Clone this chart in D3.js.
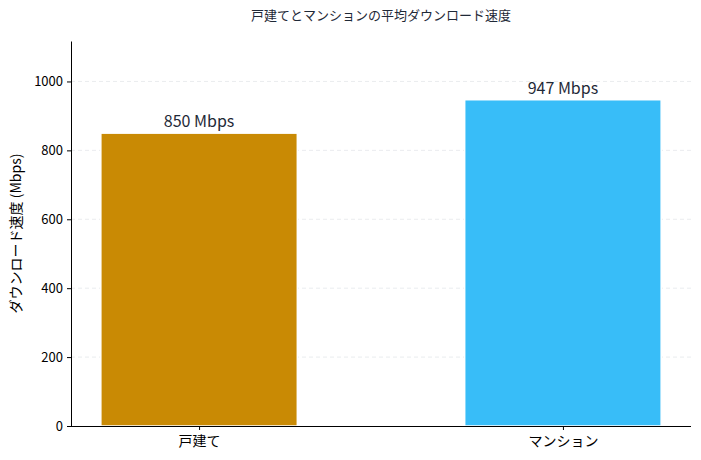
<!doctype html>
<html>
<head>
<meta charset="UTF-8">
<title>戸建てとマンションの平均ダウンロード速度</title>
<script src="https://d3js.org/d3.v7.min.js"></script>
<style>
  body { margin: 0; background: #fff; }
  text { font-family: "Noto Sans CJK JP", "Noto Sans", sans-serif; }
</style>
</head>
<body>
<div id="chart"></div>
<script>
// data
var categories = ["戸建て", "マンション"];
var speeds = [850, 947];
var colors = ["#C98A04", "#38BDF8"];
var yTicks = [0, 200, 400, 600, 800, 1000];

var W = 701, H = 460;
var margin = {top: 41, right: 10, bottom: 34, left: 71};
var width = W - margin.left - margin.right,
    height = H - margin.top - margin.bottom;

var svg = d3.select("#chart")
  .append("svg")
    .attr("width", W)
    .attr("height", H);

var g = svg.append("g")
    .attr("transform", "translate(" + margin.left + "," + margin.top + ")");

var x = d3.scalePoint()
  .domain(categories)
  .range([0, width])
  .padding(0.352);

var y = d3.scaleLinear()
  .domain([0, d3.max(speeds) * 1.18])
  .range([height, 0]);

var barW = x.step() * 0.54;

// grid
g.selectAll(".grid")
  .data(yTicks.filter(function(d) { return d > 0; }))
  .join("line")
    .attr("x1", 0)
    .attr("x2", width)
    .attr("y1", function(d) { return y(d); })
    .attr("y2", function(d) { return y(d); })
    .attr("stroke", "#e5e7eb")
    .attr("stroke-width", 0.8)
    .attr("stroke-dasharray", "4,3");

// bars
g.selectAll(".bar")
  .data(speeds)
  .join("rect")
    .attr("x", function(d, i) { return x(categories[i]) - barW / 2; })
    .attr("y", function(d) { return y(d); })
    .attr("width", barW)
    .attr("height", function(d) { return height - y(d); })
    .attr("fill", function(d, i) { return colors[i]; })
    .attr("stroke", "#fff")
    .attr("stroke-width", 1.5);

// value labels
g.selectAll(".val")
  .data(speeds)
  .join("text")
    .attr("x", function(d, i) { return x(categories[i]); })
    .attr("y", function(d) { return y(d) - 6; })
    .attr("text-anchor", "middle")
    .attr("fill", "#1f2937")
    .style("font-size", "16px")
    .text(function(d) { return d + " Mbps"; });

// axes
var yAxis = g.append("g")
  .call(d3.axisLeft(y).tickValues(yTicks).tickFormat(d3.format("d")).tickSize(4).tickPadding(4));
var xAxis = g.append("g")
  .attr("transform", "translate(0," + height + ")")
  .call(d3.axisBottom(x).tickSize(4).tickPadding(6));

[yAxis, xAxis].forEach(function(a) {
  a.selectAll("path").attr("stroke", "#000").attr("stroke-width", 1);
  a.selectAll("line").attr("stroke", "#000");
  a.selectAll("text").attr("fill", "#000").style("font-size", "13px")
    .style("font-family", "\"Noto Sans CJK JP\", sans-serif");
});
xAxis.selectAll("text").style("font-size", "14px");
yAxis.select("path").attr("d", "M0.5," + height + "V0.5");
xAxis.select("path").attr("d", "M0,0.5H" + width);

// title
svg.append("text")
  .attr("x", margin.left + width / 2)
  .attr("y", 20)
  .attr("text-anchor", "middle")
  .attr("fill", "#1f2937")
  .style("font-size", "13px")
  .text("戸建てとマンションの平均ダウンロード速度");

// y label
svg.append("text")
  .attr("transform", "translate(21," + (margin.top + height / 2) + ") rotate(-90)")
  .attr("text-anchor", "middle")
  .attr("fill", "#000")
  .style("font-size", "14px")
  .text("ダウンロード速度 (Mbps)");
</script>
</body>
</html>
